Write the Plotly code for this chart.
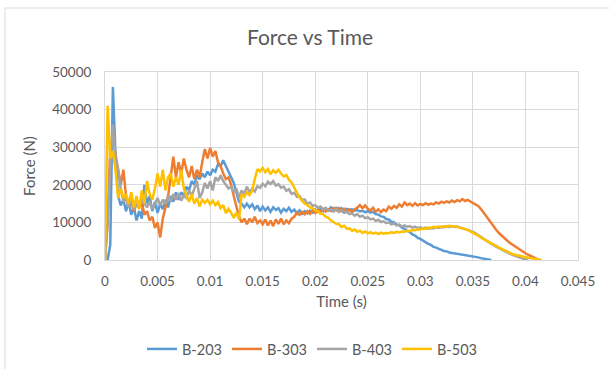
import numpy as np
import plotly.graph_objects as go

# Load-cell samples, one reading every 0.25 ms, force in kN
SAMPLE_INTERVAL = 0.00025

b203_kn = [
    0, 0, 4, 46, 28, 17, 14.5, 16, 13, 15.5, 12, 14, 10.5, 13, 11,
    20, 15, 17, 13, 15.5, 12.5, 15, 13.5, 16, 14, 17, 15.5, 18, 16,
    18, 17, 19.5, 18.5, 21, 20, 22.5, 21.5, 23, 22, 23.5, 22.5, 24, 23.5, 25.5, 25, 26.5, 25,
    23.5, 22, 20.5, 18, 15.5, 15, 14, 15, 14, 14.8,
    13.5, 14.5, 13, 14.2, 13.2, 14, 12.8, 14, 13.3, 13.8, 12.6, 13.6, 13, 13.9, 12.8, 13.4,
    12.5, 13.2, 12.3, 13, 12.4, 13.1, 12.6, 13.4, 12.8, 13.6, 13, 13.8, 13.2, 14, 13.4, 13.9,
    13.3, 13.8, 13.2, 13.6, 13.4, 13.5, 13.1, 13.3, 12.9, 13.1, 12.7,
    13.0, 12.6, 12.8, 12.2, 12.1, 11.6, 11.5, 10.9, 10.8, 10.2, 10.0, 9.4, 9.2, 8.6, 8.3, 7.7,
    7.4, 6.8, 6.5, 5.9, 5.6, 5.1, 4.8, 4.3, 4.0, 3.5, 3.3, 2.9, 2.7, 2.4, 2.3, 2.0, 1.9, 1.7,
    1.6, 1.4, 1.4, 1.2, 1.2, 1.1, 1.0, 0.8, 0.7, 0.5, 0.4, 0.2, 0.1, 0,
]

b303_kn = [
    0, 10, 30, 33, 28, 24, 20, 24, 17, 14, 15.5, 13, 15, 14, 15.5, 12, 13, 10.5, 11.5, 8.5, 10, 6,
    11, 14, 17, 22, 27.5, 22, 26, 23, 27, 24, 22, 25, 21.5, 24, 22, 26, 29.5, 27, 29.8, 27.5,
    29, 26, 25, 23, 21.5, 22, 20, 17, 14,
    11.5, 10, 11, 9.5, 11, 10, 11.5, 9.8, 10.5, 9.5, 10.8, 9.2, 10.5, 9, 10.8, 9.6, 11, 9.5,
    10.5, 9.8, 11, 11.5, 12.5, 12, 12.8, 12.2, 13, 12.3, 13.2, 12.5, 13.4, 12.8, 13.6, 12.9,
    13.5, 13, 13.8,
    13.2, 13.8, 13.0, 13.6, 12.8, 13.4, 12.6, 13.5, 13.9, 14.6, 13.8, 14.5, 13.6, 13.2, 13.9,
    12.8, 13.5, 12.7, 13.4, 13.0, 14.2, 13.6, 14.4, 13.9, 14.8, 14.2, 15.3, 14.6, 15.0, 14.4,
    15.1, 14.5, 14.9, 14.6, 15.1, 14.7, 15.0, 14.8, 15.3, 15.0, 15.5, 15.2, 15.6, 15.3, 15.8,
    15.4, 15.9, 15.6, 16.2, 15.7, 16.0, 15.6, 15.4, 15.0, 14.4, 13.6, 12.6, 11.6, 10.6, 9.6,
    8.7, 7.9, 7.1, 6.4, 5.8, 5.2, 4.6, 4.1, 3.6, 3.1, 2.6, 2.2, 1.8, 1.4, 1.0, 0.7, 0.4, 0.1, 0,
]

b403_kn = [
    0, 10, 25, 36, 27, 24, 19, 15.5, 16.5, 14, 16, 13.5, 15, 14, 16, 15, 14, 15.5, 13.5, 15,
    16.5, 14.5, 16, 15, 17, 15.5, 17.5, 16, 17.8, 15.8, 17.2, 16.5,
    18.5, 17, 19, 21, 16.5, 18, 20.5, 19, 21, 18.5, 22, 21, 22.5, 21, 20, 19, 19.5, 18, 19,
    16.5, 18.5, 17.5, 19.5, 18, 19, 18.2, 19.6,
    19.2, 20.3, 19.6, 20.8, 20.2, 21, 19.8, 20.2, 19.2, 19.5, 18.4, 18.8, 17.6, 17.9, 16.8, 17,
    15.9, 16.1, 15, 15.3, 14.4, 14.6, 13.9, 14.2, 13.4, 13.8, 13.1, 13.5, 12.9, 13.6, 12.8,
    13.2, 12.5, 12.9, 12.2, 12.4, 11.8, 12.2, 11.5, 11.8, 11.1, 11.4, 10.8, 11.0, 10.4, 10.7,
    10.1, 10.3, 9.8, 10.0, 9.5, 9.7, 9.2, 9.4, 8.9, 9.2, 8.8, 9.0, 8.6, 8.9, 8.5, 8.7, 8.4,
    8.6, 8.3, 8.5, 8.4, 8.7, 8.5, 8.8, 8.7, 9.0, 8.8, 9.0, 8.8, 8.9, 8.6, 8.5, 8.2,
    8.0, 7.8, 7.5, 7.1, 6.7, 6.2, 5.7, 5.2, 4.7, 4.3, 3.9, 3.5, 3.1, 2.7, 2.3, 2.0, 1.7, 1.4,
    1.1, 0.9, 0.7, 0.4, 0.2, 0,
]

b503_kn = [
    0, 41, 27, 29, 24, 16.5, 19, 16.5, 17.5, 15, 18, 14, 17, 13.5, 18.5, 15, 21, 17.5, 16, 19,
    23, 19.5, 24, 18.5, 22, 23, 19.5, 22, 20, 24, 19,
    17, 15.5, 17.5, 15, 16.5, 14.2, 16, 15.2, 16, 14.8, 15.8, 14.6, 15.4, 13.8, 14.6, 12.5,
    13.6, 12.6, 11.2, 12.6, 10.8, 17.5, 16.8, 18, 17.3, 18.4,
    21.5, 24.2, 23.5, 24.5, 23.3, 24.2, 22.8, 23.9, 23.2, 24.0, 23.0, 22.2, 22.6, 21.3, 20.6,
    19.2, 18.0, 16.6, 15.8, 15.0, 14.6, 14.0, 13.8, 13.2, 13.0, 12.3, 12.2, 11.5, 11.2, 10.5,
    10.1, 9.6, 9.5, 8.8, 9.1, 8.3, 8.4, 7.8, 8.1, 7.5, 7.8, 7.2, 7.6, 7.1, 7.4, 7.0, 7.3, 6.9,
    7.3, 7.0, 7.2, 7.1, 7.4, 7.2, 7.5, 7.3, 7.6, 7.5, 7.8, 7.7, 8.0, 7.9, 8.2, 8.1, 8.4, 8.3,
    8.6, 8.5, 8.8, 8.7, 8.9, 8.8, 9.0, 8.9, 9.1, 8.9, 9.0, 8.8, 8.8, 8.6,
    8.3, 8.0, 7.6, 7.3, 6.8, 6.5, 6.0, 5.6, 5.1, 4.8, 4.3, 4.0, 3.6, 3.3, 2.9, 2.6, 2.2, 1.9,
    1.6, 1.4, 1.2, 1.0, 0.9, 0.8, 0.6, 0.5, 0.4, 0.2, 0.1, 0,
]

series_names = ["B-203", "B-303", "B-403", "B-503"]
series_kn = [b203_kn, b303_kn, b403_kn, b503_kn]
series_colors = ["#5B9BD5", "#ED7D31", "#A5A5A5", "#FFC000"]

x_ticks = [0, 0.005, 0.01, 0.015, 0.02, 0.025, 0.03, 0.035, 0.04, 0.045]
x_tick_labels = ["0", "0.005", "0.01", "0.015", "0.02", "0.025", "0.03", "0.035", "0.04", "0.045"]
y_ticks = [0, 10000, 20000, 30000, 40000, 50000]
y_tick_labels = ["0", "10000", "20000", "30000", "40000", "50000"]

TEXT = "#595959"
GRID = "#D9D9D9"
FONT = "Lato"

fig = go.Figure()
for name, kn, color in zip(series_names, series_kn, series_colors):
    t = np.arange(len(kn)) * SAMPLE_INTERVAL
    force_n = np.array(kn) * 1000.0
    fig.add_trace(go.Scatter(
        x=t, y=force_n, mode="lines", name=name,
        line=dict(color=color, width=2.5),
    ))

W, H = 609, 369
L, R, T, B = 105, 31, 72, 109
pw, ph = W - L - R, H - T - B

def px_x(p):
    return (p - L) / pw

def px_y(p):
    return (H - B - p) / ph

fig.update_layout(
    width=W, height=H,
    margin=dict(l=L, r=R, t=T, b=B, autoexpand=False),
    paper_bgcolor="white", plot_bgcolor="white",
    font=dict(family=FONT, color=TEXT, size=13),
    title=dict(text="Force vs Time", x=310 / W, xanchor="center",
               y=1 - 38 / H, yanchor="middle",
               font=dict(family=FONT, size=21, color=TEXT)),
    showlegend=True,
    legend=dict(orientation="h", x=px_x(312), xanchor="center",
                y=px_y(349), yanchor="middle",
                font=dict(family=FONT, size=14.5, color=TEXT),
                bgcolor="rgba(0,0,0,0)"),
    xaxis=dict(range=[0, 0.045], tickvals=x_ticks, ticktext=x_tick_labels,
               showgrid=True, gridcolor=GRID, gridwidth=1,
               showline=True, linecolor=GRID, linewidth=1, mirror=True,
               zeroline=False, ticks="", ticklabelstandoff=9,
               tickfont=dict(family=FONT, size=13.5, color=TEXT),
               title=dict(text="Time (s)", standoff=8,
                          font=dict(family=FONT, size=15, color=TEXT))),
    yaxis=dict(range=[0, 50000], tickvals=y_ticks, ticktext=y_tick_labels,
               showgrid=True, gridcolor=GRID, gridwidth=1,
               showline=True, linecolor=GRID, linewidth=1, mirror=True,
               zeroline=False, ticks="", ticklabelstandoff=10,
               tickfont=dict(family=FONT, size=13.5, color=TEXT),
               title=dict(text="Force (N)", standoff=12,
                          font=dict(family=FONT, size=15, color=TEXT))),
    shapes=[dict(type="rect", xref="paper", yref="paper",
                 x0=px_x(5), x1=px_x(640), y0=px_y(400), y1=px_y(8),
                 line=dict(color=GRID, width=1), fillcolor="rgba(0,0,0,0)",
                 layer="below")],
)

fig.write_html("out.html")
